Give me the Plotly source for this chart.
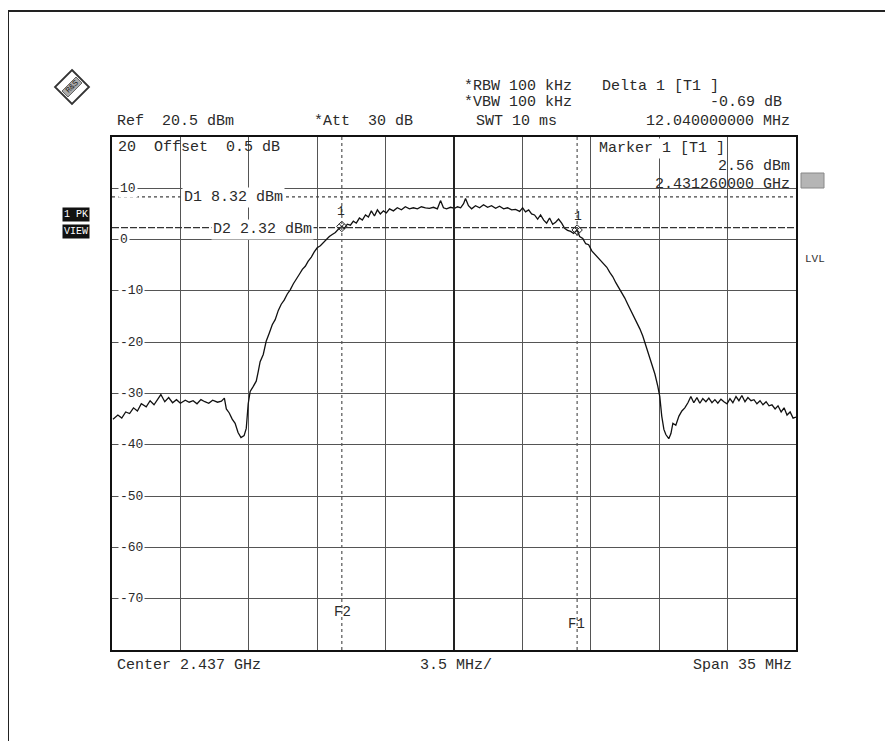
import plotly.graph_objects as go

CENTER_GHZ = 2.437
SPAN_MHZ = 35.0

# Trace: frequency offset from centre (MHz) and level (dBm)
freq_offset_mhz = [
    -17.45, -17.2, -17.0, -16.8, -16.6, -16.4, -16.2, -16.0, -15.75, -15.55,
    -15.35, -15.15, -15.0, -14.8, -14.6, -14.4, -14.2, -14.0, -13.75, -13.55,
    -13.35, -13.15, -12.95, -12.75, -12.55, -12.35, -12.1, -11.9, -11.75, -11.65,
    -11.5, -11.35, -11.2, -11.05, -10.9, -10.74, -10.63, -10.53, -10.43, -10.27,
    -10.12, -10.02, -9.92, -9.76, -9.61, -9.45, -9.3, -9.15, -8.99, -8.84,
    -8.69, -8.53, -8.38, -8.22, -8.07, -7.92, -7.76, -7.61, -7.46, -7.3,
    -7.15, -7.0, -6.84, -6.69, -6.53, -6.38, -6.23, -6.07, -5.92, -5.74,
    -5.61, -5.46, -5.3, -5.15, -5.0, -4.84, -4.69, -4.53, -4.38, -4.23,
    -4.07, -3.92, -3.77, -3.61, -3.46, -3.3, -3.1, -2.9, -2.69, -2.49,
    -2.28, -2.08, -1.87, -1.67, -1.46, -1.26, -1.05, -0.85, -0.69, -0.54,
    -0.38, -0.18, 0.03, 0.18, 0.34, 0.49, 0.59, 0.74, 0.9, 1.1,
    1.31, 1.51, 1.72, 1.92, 2.13, 2.33, 2.54, 2.74, 2.95, 3.15,
    3.36, 3.51, 3.66, 3.82, 3.97, 4.12, 4.28, 4.43, 4.59, 4.74,
    4.89, 5.05, 5.2, 5.35, 5.51, 5.66, 5.81, 5.97, 6.12, 6.30,
    6.43, 6.59, 6.74, 6.89, 7.05, 7.2, 7.36, 7.51, 7.66, 7.82,
    7.97, 8.12, 8.28, 8.43, 8.58, 8.74, 8.89, 9.05, 9.2, 9.35,
    9.51, 9.66, 9.81, 9.97, 10.12, 10.28, 10.43, 10.53, 10.63, 10.74,
    10.84, 10.99, 11.1, 11.2, 11.35, 11.51, 11.66, 11.81, 11.97, 12.12,
    12.27, 12.43, 12.58, 12.73, 12.89, 13.04, 13.2, 13.35, 13.5, 13.66,
    13.81, 13.97, 14.12, 14.27, 14.43, 14.58, 14.73, 14.89, 15.04, 15.2,
    15.35, 15.5, 15.66, 15.81, 15.97, 16.12, 16.27, 16.43, 16.58, 16.74,
    16.89, 17.04, 17.2, 17.35, 17.5,
]
level_dbm = [
    -35.0, -34.2, -34.8, -33.6, -33.9, -32.8, -33.4, -32.0, -32.6, -31.4,
    -32.2, -31.0, -30.2, -31.6, -30.8, -31.8, -31.2, -31.9, -31.3, -31.7,
    -31.4, -32.0, -31.2, -31.6, -31.9, -31.3, -31.7, -31.5, -30.9, -33.0,
    -33.8, -35.0, -35.8, -37.6, -38.6, -38.2, -36.8, -32.0, -29.6, -28.6,
    -27.6, -25.8, -23.8, -22.4, -19.8, -18.2, -16.6, -15.6, -13.8, -12.6,
    -11.8, -10.6, -9.8, -8.6, -7.8, -6.8, -5.8, -5.2, -4.2, -3.4,
    -2.4, -1.6, -1.2, -0.6, 0.2, 0.6, 1.0, 1.4, 2.0, 2.56,
    2.2, 3.0, 2.8, 3.6, 3.2, 4.2, 3.8, 4.8, 4.4, 5.6,
    4.6, 5.8, 5.0, 5.6, 5.2, 6.0, 5.6, 6.2, 5.8, 6.4,
    6.0, 6.2, 6.0, 6.4, 6.2, 6.1, 6.3, 6.0, 7.6, 6.2,
    6.0, 6.3, 6.1, 6.4, 6.2, 7.0, 8.0, 6.6, 6.0, 6.6,
    6.2, 6.8, 6.3, 6.6, 6.1, 6.5, 6.0, 6.2, 5.8, 5.9,
    5.5, 6.2, 5.4, 5.8, 5.0, 4.8, 4.0, 4.8, 3.8, 3.2,
    4.2, 3.0, 3.4, 4.0, 3.2, 2.2, 1.8, 1.6, 1.2, 1.87,
    0.6, 0.2, -0.8, -1.0, -2.2, -2.8, -3.4, -4.0, -4.8, -5.4,
    -6.4, -7.2, -8.4, -9.4, -10.2, -11.4, -12.6, -13.8, -14.8, -16.2,
    -17.4, -18.8, -20.6, -22.4, -24.2, -26.2, -28.6, -30.6, -34.4, -37.0,
    -38.0, -38.8, -37.8, -35.8, -36.2, -34.4, -33.4, -32.8, -31.8, -30.6,
    -31.8, -30.8, -31.9, -31.0, -31.6, -30.9, -31.8, -31.2, -31.9, -31.1,
    -31.6, -32.0, -31.0, -31.8, -30.6, -31.4, -30.4, -31.6, -30.8, -31.4,
    -31.2, -32.0, -31.4, -32.2, -31.6, -32.4, -32.2, -33.0, -32.4, -33.6,
    -32.8, -34.2, -33.6, -34.8, -34.6,
]

# Markers and display lines
marker_offsets_mhz = [-5.74, 6.30]
marker_levels_dbm = [2.56, 1.87]
display_lines_dbm = [8.32, 2.32]          # D1, D2
freq_lines_mhz = [-5.74, 6.30]            # F2, F1
y_tick_values = [10, 0, -10, -20, -30, -40, -50, -60, -70]
y_tick_labels = ["10", "0", "-10", "-20", "-30", "-40", "-50", "-60", "-70"]

W, H = 893, 741          # page size
OFF = 8                  # browser body margin
L, R, T, B = 112, 796, 137, 650   # plot area in page pixels
FONT = "Liberation Mono"
TXT = "#2a2a2a"
NB = "\u00a0"


def px(x):
    return (x - L) / (R - L)


def py(y):
    return (B - y) / (B - T)


fig = go.Figure()
fig.add_trace(go.Scatter(
    x=freq_offset_mhz, y=level_dbm, mode="lines",
    line=dict(color="#111", width=1.3), hoverinfo="skip", showlegend=False,
))
fig.add_trace(go.Scatter(
    x=marker_offsets_mhz, y=marker_levels_dbm, mode="markers",
    marker=dict(symbol="diamond-x-open", size=8, color="#222", line=dict(width=1)),
    hoverinfo="skip", showlegend=False,
))

shapes = []
# Centre line (thicker)
shapes.append(dict(type="line", xref="x", yref="paper", x0=0, x1=0, y0=0, y1=1,
                   line=dict(color="#222", width=2)))
# Display lines
shapes.append(dict(type="line", xref="paper", yref="y", x0=0, x1=1,
                   y0=display_lines_dbm[0], y1=display_lines_dbm[0],
                   line=dict(color="#444", width=1.2, dash="dot")))
shapes.append(dict(type="line", xref="paper", yref="y", x0=0, x1=1,
                   y0=display_lines_dbm[1], y1=display_lines_dbm[1],
                   line=dict(color="#333", width=1.3, dash="7px,2px")))
# Frequency lines
for f in freq_lines_mhz:
    shapes.append(dict(type="line", xref="x", yref="paper", x0=f, x1=f, y0=0, y1=1,
                       line=dict(color="#555", width=1.2, dash="dot")))
# Outer frame (top and left edges)
shapes.append(dict(type="line", xref="paper", yref="paper", x0=px(8), x1=px(W + 5),
                   y0=py(11), y1=py(11), line=dict(color="#222", width=2)))
shapes.append(dict(type="line", xref="paper", yref="paper", x0=px(8), x1=px(8),
                   y0=py(11), y1=py(H + 5), line=dict(color="#222", width=2)))
# R&S logo diamond
cx, cy, r = 72, 87, 17
shapes.append(dict(type="path", xref="paper", yref="paper",
                   path=f"M {px(cx)},{py(cy - r)} L {px(cx + r)},{py(cy)} L {px(cx)},{py(cy + r)} L {px(cx - r)},{py(cy)} Z",
                   line=dict(color="#333", width=1.8), fillcolor="white"))
shapes.append(dict(type="path", xref="paper", yref="paper",
                   path=f"M {px(cx - 10)},{py(cy + 4)} L {px(cx + 4)},{py(cy - 10)} L {px(cx + 10)},{py(cy - 4)} L {px(cx - 4)},{py(cy + 10)} Z",
                   line=dict(color="#666", width=1), fillcolor="#aaa"))
# Hatched box on the right
shapes.append(dict(type="rect", xref="paper", yref="paper", x0=px(801), x1=px(824),
                   y0=py(173), y1=py(188), line=dict(color="#888", width=1),
                   fillcolor="#b5b5b5"))
fig.update_layout(shapes=shapes)

ann = []


def text(s, x, y, anchor="left", size=15, color=TXT, **kw):
    ann.append(dict(text=s.replace(" ", NB), xref="paper", yref="paper",
                    x=px(x), y=py(y), xanchor=anchor, yanchor="middle",
                    showarrow=False, font=dict(family=FONT, size=size, color=color), **kw))


# Header
text("*RBW 100 kHz", 462, 86)
text("Delta 1 [T1 ]", 600, 86)
text("*VBW 100 kHz", 462, 103)
text("-0.69 dB", 784, 103, anchor="right")
text("Ref  20.5 dBm", 115, 121)
text("*Att  30 dB", 312, 121)
text("SWT 10 ms", 474, 121)
text("12.040000000 MHz", 792, 121, anchor="right")
# Inside plot
text("20  Offset  0.5 dB", 116, 147)
text("Marker 1 [T1 ]", 597, 148, bgcolor="white")
text("2.56 dBm", 792, 166, anchor="right")
text("2.431260000 GHz", 792, 184, anchor="right")
text("D1 8.32 dBm", 182, 197, bgcolor="white")
text("D2 2.32 dBm", 211, 229, bgcolor="white")
text("1", 341, 211, anchor="center", size=13)
text("1", 578, 216, anchor="center", size=13)
text("F2", 342, 612, anchor="center", size=14)
text("F1", 576, 624, anchor="center", size=14)
for v, lab in zip(y_tick_values, y_tick_labels):
    ann.append(dict(text=lab, xref="paper", yref="y", x=px(118), y=v,
                    xanchor="left", yanchor="middle", showarrow=False,
                    bgcolor="white", font=dict(family=FONT, size=13, color=TXT)))
# Footer
text("Center 2.437 GHz", 115, 665)
text("3.5 MHz/", 456, 665, anchor="center")
text("Span 35 MHz", 794, 665, anchor="right")
# Side labels
text("LVL", 803, 259, size=11, color="#333")
text("1 PK", 62, 214, size=10, color="white", bgcolor="#111")
text("VIEW", 62, 231, size=10, color="white", bgcolor="#111")
text("R&S", cx, cy, anchor="center", size=8, color="#222", textangle=-45)

fig.update_layout(annotations=ann)

fig.update_layout(
    width=W - OFF, height=H - OFF,
    margin=dict(l=L - OFF, r=W - R, t=T - OFF, b=H - B, pad=0),
    paper_bgcolor="white", plot_bgcolor="white",
    xaxis=dict(range=[-SPAN_MHZ / 2, SPAN_MHZ / 2], tick0=-SPAN_MHZ / 2, dtick=SPAN_MHZ / 10,
               showticklabels=False, ticks="", showgrid=True, gridcolor="#555", gridwidth=1,
               zeroline=False, showline=True, linecolor="#111", linewidth=2, mirror=True,
               fixedrange=True),
    yaxis=dict(range=[-80, 20], tick0=-80, dtick=10, showticklabels=False, ticks="",
               showgrid=True, gridcolor="#555", gridwidth=1, zeroline=False,
               showline=True, linecolor="#111", linewidth=2, mirror=True, fixedrange=True),
    showlegend=False,
)

fig.write_html("out.html")
